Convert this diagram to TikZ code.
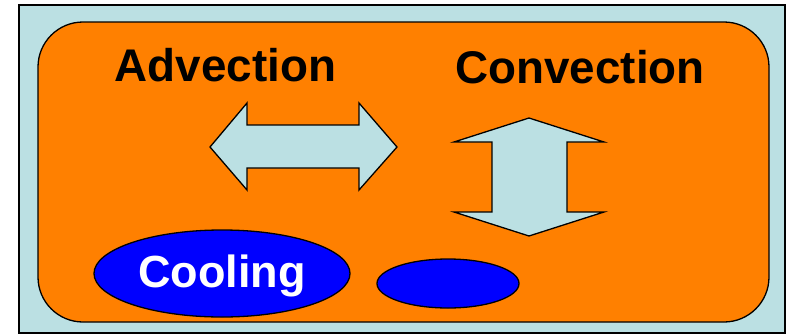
\documentclass[tikz,border=0pt]{standalone}
\usepackage{fontspec}
\setmainfont{Liberation Sans}
\usetikzlibrary{shapes.geometric}
\definecolor{lblue}{HTML}{BBE0E3}
\definecolor{orng}{HTML}{FF8000}
\definecolor{bblue}{HTML}{0000FF}
\tikzset{
  lbl/.style={font=\fontsize{45.8}{46}\selectfont\bfseries, anchor=base, inner sep=0pt},
  arrowshape/.style={draw=black, line width=1.3pt, fill=lblue, line join=miter},
  ell/.style={draw=black, line width=1.3pt, fill=bblue, ellipse, inner sep=0pt}
}
\begin{document}
\begin{tikzpicture}[x=1pt,y=-1pt]
\useasboundingbox (0,0) rectangle (789,335);
\fill[white] (0,0) rectangle (789,335);
\node[draw=black, line width=2pt, fill=lblue, rectangle, inner sep=0pt, minimum width=766pt, minimum height=328pt] (outer) at (402,169) {};
\node[draw=black, line width=1.3pt, fill=orng, rectangle, rounded corners=45pt, inner sep=0pt, minimum width=731pt, minimum height=300pt] (panel) at (403.5,172) {};
\node[lbl] (adv) at (225.5,81) {Advection};
\node[lbl] (conv) at (580,83) {Convection};
% horizontal double arrow
\draw[arrowshape] (210,147) -- (247,103) -- (247,125) -- (359,125) -- (359,103) -- (397,147)
  -- (359,190) -- (359,168) -- (247,168) -- (247,190) -- cycle;
\coordinate (harrow) at (303.5,147);
% vertical double arrow
\draw[arrowshape] (529,118) -- (604,142) -- (567,142) -- (567,212) -- (604,212) -- (529,236)
  -- (454,212) -- (492,212) -- (492,142) -- (454,142) -- cycle;
\coordinate (varrow) at (529,177);
\node[ell, minimum width=256pt, minimum height=87pt] (cool) at (222,273.5) {};
\node[lbl, text=white, font=\fontsize{45}{45}\selectfont\bfseries] (cooltxt) at (222,287) {Cooling};
\node[ell, minimum width=142pt, minimum height=49pt] (small) at (448,283.5) {};
\end{tikzpicture}
\end{document}
